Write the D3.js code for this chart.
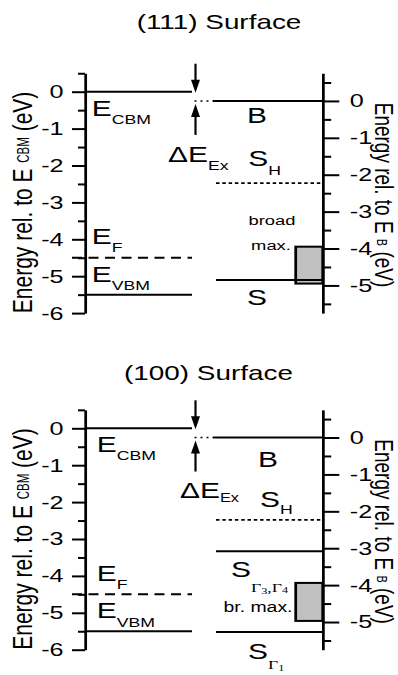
<!DOCTYPE html>
<html>
<head>
<meta charset="utf-8">
<script src="https://cdn.jsdelivr.net/npm/d3@7"></script>
<style>
  body { margin: 0; background: #fff; }
  svg { display: block; font-family: "Liberation Sans", Arial, Helvetica, sans-serif; }
</style>
</head>
<body>
<svg id="chart" width="398" height="675"></svg>
<script>
// all energies in eV
const panelTitles = ["(111) Surface", "(100) Surface"];
const leftMajorTicks = [0, -1, -2, -3, -4, -5, -6];
const leftMinorTicks = [0.5, -0.5, -1.5, -2.5, -3.5, -4.5, -5.5];
const rightMajorTicks = [0, -1, -2, -3, -4, -5];
const rightMinorTicks = [0.5, -0.5, -1.5, -2.5, -3.5, -4.5, -5.5];
const excitonShift = 0.25; // ΔE_Ex, offset between the two energy scales

// bulk side (rel. to E_CBM): CBM, Fermi level, VBM
const bulkLevels = [0, -4.5, -5.5];
const bulkKinds = ["band", "fermi", "band"];

// surface side (rel. to E_B)
const surfLevels111 = [0, -2.23, -4.85];
const surfKinds111 = ["band", "state", "band"];
const broadMax111 = [-3.95, -4.95];

const surfLevels100 = [0, -2.23, -3.08, -5.27];
const surfKinds100 = ["band", "state", "band", "band"];
const broadMax100 = [-3.94, -4.97];

// ---- layout ----
const SX = 1.36;       // whole figure is stretched horizontally
const K = 36.9;        // px per eV
const px = (v) => v / SX;
const serif = "'Liberation Serif', 'DejaVu Serif', serif";
const big = 22, sub = 13;

const svg = d3.select("#chart");
svg.append("rect").attr("width", 398).attr("height", 675).attr("fill", "#fff");
const root = svg.append("g").attr("transform", `scale(${SX},1)`);

const dash = {
  band: null,
  fermi: `${px(10)} ${px(6.5)}`,
  state: `${px(3.5)} ${px(2.8)}`,
};

const addLabel = (g, x, y, parts, anchor) => {
  const t = g.append("text").attr("x", x).attr("y", y).attr("text-anchor", anchor || "start");
  parts.forEach((p) => {
    t.append("tspan")
      .attr("dy", p.dy || 0)
      .attr("font-size", p.size || big)
      .attr("font-family", p.serif ? serif : null)
      .text(p.t);
  });
  return t;
};

const drawPanel = (cfg) => {
  const g = root.append("g");
  const yL = d3.scaleLinear().domain([0.5, -6]).range([cfg.zeroY - 0.5 * K, cfg.zeroY + 6 * K]);
  const yR = d3.scaleLinear().domain([0.5 + excitonShift, -6 + excitonShift]).range(yL.range());
  const axL = px(85), axR = px(322.7);

  g.append("text")
    .attr("x", px(cfg.titleX)).attr("y", cfg.titleY)
    .attr("text-anchor", "middle").attr("font-size", 20.5)
    .text(cfg.title);

  // left axis
  const gl = g.append("g").attr("transform", `translate(${axL},0)`);
  gl.call(d3.axisLeft(yL).tickValues(leftMajorTicks).tickSize(px(13)).tickSizeOuter(0)
    .tickPadding(px(8.5)).tickFormat((d) => String(d)));
  gl.append("g").call(d3.axisLeft(yL).tickValues(leftMinorTicks).tickSize(px(7)).tickSizeOuter(0).tickFormat(""))
    .select(".domain").remove();
  gl.selectAll("text").attr("font-size", 18.5).attr("font-family", null).attr("fill", "#000");
  gl.selectAll("line,path").attr("stroke", "#000").attr("stroke-width", 2);
  gl.attr("font-family", null);

  // right axis
  const gr = g.append("g").attr("transform", `translate(${axR},0)`);
  gr.call(d3.axisRight(yR).tickValues(rightMajorTicks).tickSize(px(16.6)).tickSizeOuter(0)
    .tickPadding(px(10.5)).tickFormat((d) => String(d)));
  gr.append("g").call(d3.axisRight(yR).tickValues(rightMinorTicks).tickSize(px(8.5)).tickSizeOuter(0).tickFormat(""))
    .select(".domain").remove();
  gr.selectAll("text").attr("font-size", 18.5).attr("font-family", null).attr("fill", "#000");
  gr.selectAll("line,path").attr("stroke", "#000").attr("stroke-width", 2);
  gr.attr("font-family", null);

  // axis titles
  const tl = g.append("text").attr("transform", `translate(${px(31.5)},${yL(-3)}) rotate(-90)`)
    .attr("text-anchor", "middle").attr("font-size", 21);
  tl.append("tspan").text("Energy rel. to E ");
  tl.append("tspan").attr("font-size", 11.5).attr("dy", -1.5).text("CBM");
  tl.append("tspan").attr("dy", 1.5).text(" (eV)");

  const tr = g.append("text").attr("transform", `translate(${px(374.5)},${yR(-2.55)}) rotate(90)`)
    .attr("text-anchor", "middle").attr("font-size", 19);
  tr.append("tspan").text("Energy rel. to E ");
  tr.append("tspan").attr("font-size", 11).attr("dy", -1.5).text("B");
  tr.append("tspan").attr("dy", 1.5).text(" (eV)");

  // bulk levels
  g.selectAll("line.bulk").data(bulkLevels).join("line")
    .attr("class", "bulk")
    .attr("x1", (d, i) => (bulkKinds[i] === "fermi" ? px(72) : axL))
    .attr("x2", px(192))
    .attr("y1", (d) => yL(d)).attr("y2", (d) => yL(d))
    .attr("stroke", "#000").attr("stroke-width", 2)
    .attr("stroke-dasharray", (d, i) => dash[bulkKinds[i]]);

  // broad maximum box
  g.append("rect")
    .attr("x", px(295.7)).attr("width", axR - px(295.7))
    .attr("y", yR(cfg.box[0])).attr("height", yR(cfg.box[1]) - yR(cfg.box[0]))
    .attr("fill", "#c0c0c0").attr("stroke", "#000").attr("stroke-width", 2);

  // surface levels
  g.selectAll("line.surf").data(cfg.levels).join("line")
    .attr("class", "surf")
    .attr("x1", (d, i) => (i === 0 ? px(213) : px(216)))
    .attr("x2", axR)
    .attr("y1", (d) => yR(d)).attr("y2", (d) => yR(d))
    .attr("stroke", "#000").attr("stroke-width", (d, i) => (cfg.kinds[i] === "state" ? 1.8 : 2))
    .attr("stroke-dasharray", (d, i) => dash[cfg.kinds[i]]);

  // exciton shift arrows
  const ax = px(195.5), hw = px(4.5);
  g.append("line").attr("x1", ax).attr("x2", ax).attr("y1", yL(0) - 28).attr("y2", yL(0) - 10)
    .attr("stroke", "#000").attr("stroke-width", 1.6);
  g.append("path").attr("d", `M${ax - hw},${yL(0) - 12}L${ax + hw},${yL(0) - 12}L${ax},${yL(0) + 1}Z`);
  g.append("line").attr("x1", ax).attr("x2", ax).attr("y1", yR(0) + 34).attr("y2", yR(0) + 14)
    .attr("stroke", "#000").attr("stroke-width", 1.6);
  g.append("path").attr("d", `M${ax - hw},${yR(0) + 16}L${ax + hw},${yR(0) + 16}L${ax},${yR(0) + 3}Z`);
  g.append("line").attr("x1", ax - px(1)).attr("x2", px(213)).attr("y1", yR(0)).attr("y2", yR(0))
    .attr("stroke", "#000").attr("stroke-width", 1.5).attr("stroke-dasharray", `${px(2)} ${px(4)}`);

  // text labels
  cfg.labels.forEach((l) => {
    const y = l.side === "R" ? yR(l.e) : yL(l.e);
    addLabel(g, px(l.x), y, l.parts, l.anchor);
  });
};

const eLabels = (x) => [
  { x, e: -0.65, side: "L", parts: [{ t: "E" }, { t: "CBM", size: sub, dy: 8 }] },
  { x, e: -4.14, side: "L", parts: [{ t: "E" }, { t: "F", size: sub, dy: 8 }] },
  { x, e: -5.15, side: "L", parts: [{ t: "E" }, { t: "VBM", size: sub, dy: 8.5 }] },
];

drawPanel({
  title: panelTitles[0], titleX: 219, titleY: 29, zeroY: 91.7,
  levels: surfLevels111, kinds: surfKinds111, box: broadMax111,
  labels: eLabels(91.7).concat([
    { x: 168, e: -1.9, side: "L", parts: [{ t: "ΔE" }, { t: "Ex", size: sub, dy: 8 }] },
    { x: 257, e: -0.6, side: "R", anchor: "middle", parts: [{ t: "B" }] },
    { x: 248.3, e: -1.76, side: "R", parts: [{ t: "S" }, { t: "H", size: sub, dy: 9 }] },
    { x: 272, e: -3.36, side: "R", anchor: "middle", parts: [{ t: "broad", size: 13.5 }] },
    { x: 271, e: -4.04, side: "R", anchor: "middle", parts: [{ t: "max.", size: 13.5 }] },
    { x: 257, e: -5.53, side: "R", anchor: "middle", parts: [{ t: "S" }] },
  ]),
});

drawPanel({
  title: panelTitles[1], titleX: 208.5, titleY: 380, zeroY: 428.3,
  levels: surfLevels100, kinds: surfKinds100, box: broadMax100,
  labels: eLabels(96.7).concat([
    { x: 180, e: -1.9, side: "L", parts: [{ t: "ΔE" }, { t: "Ex", size: 12, dy: 4 }] },
    { x: 268, e: -0.81, side: "R", anchor: "middle", parts: [{ t: "B" }] },
    { x: 260, e: -1.89, side: "R", parts: [{ t: "S" }, { t: "H", size: sub, dy: 6.5 }] },
    { x: 231, e: -3.78, side: "R", parts: [
      { t: "S" }, { t: "Γ", size: 13, serif: true, dy: 15 }, { t: "3", size: 9, serif: true, dy: 2 },
      { t: ",", size: 13, serif: true, dy: -2 }, { t: "Γ", size: 13, serif: true }, { t: "4", size: 9, serif: true, dy: 1 },
    ] },
    { x: 258, e: -4.73, side: "R", anchor: "middle", parts: [{ t: "br. max.", size: 14.3 }] },
    { x: 248, e: -5.99, side: "R", parts: [
      { t: "S" }, { t: "Γ", size: 13, serif: true, dy: 10 }, { t: "1", size: 9, serif: true, dy: 2 },
    ] },
  ]),
});
</script>
</body>
</html>
